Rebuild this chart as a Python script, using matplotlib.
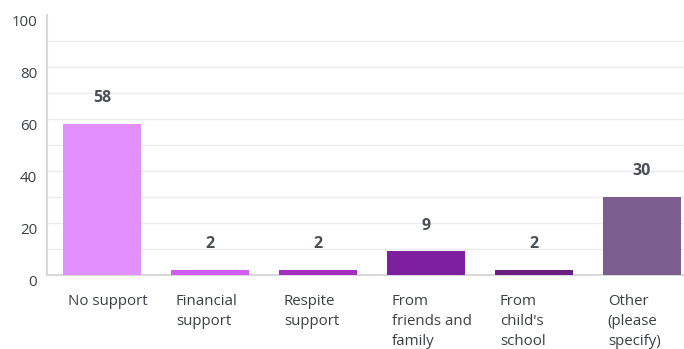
import matplotlib.pyplot as plt

categories = ["No support", "Financial\nsupport", "Respite\nsupport",
              "From\nfriends and\nfamily", "From\nchild's\nschool", "Other\n(please\nspecify)"]
values = [58, 2, 2, 9, 2, 30]
colors = ["#E190FD", "#D05CF7", "#A22FBF", "#7E1FA0", "#6C1F82", "#7D5C8E"]
y_ticks = [0, 20, 40, 60, 80, 100]

plt.rcParams['font.family'] = ['Open Sans', 'DejaVu Sans']
text_color = "#3b3f45"

fig = plt.figure(figsize=(6.84, 3.49), dpi=100)
ax = fig.add_axes([47 / 684, 74.3 / 349, 637 / 684, 260 / 349])

x = list(range(len(values)))
ax.bar(x, values, width=0.722, color=colors, zorder=3)

# value labels above each bar
for xi, v in zip(x, values):
    ax.annotate(str(v), (xi, v), xytext=(0, 18.5), textcoords="offset points",
                ha="center", va="center", fontsize=11.5, fontweight="bold",
                color="#4a4e55")

ax.set_xlim(-0.509, 5.389)
ax.set_ylim(0, 100)

# horizontal grid every 10, no line at the top
for g in range(10, 100, 10):
    ax.axhline(g, color="#ececec", lw=1, zorder=1)

# y labels sit a little below their gridline
ax.set_yticks([])
ax.set_xticks([])
for t in y_ticks:
    ax.annotate(str(t), (0, t), xycoords=("axes fraction", "data"),
                xytext=(-7, -5.5), textcoords="offset points",
                ha="right", va="center", fontsize=10.8, color=text_color,
                annotation_clip=False)

# category labels, left-aligned under each bar
for xi, c in zip(x, categories):
    ax.annotate(c, (xi - 0.361, 0), xytext=(3.5, -14), textcoords="offset points",
                ha="left", va="top", fontsize=10.8, color=text_color,
                linespacing=1.47, annotation_clip=False)

for s in ["top", "right"]:
    ax.spines[s].set_visible(False)
ax.spines["left"].set_color("#d9d9d9")
ax.spines["bottom"].set_color("#d9d9d9")
ax.spines["left"].set_linewidth(1.5)
ax.spines["bottom"].set_linewidth(1.5)

fig.savefig("out.png", dpi=100)
